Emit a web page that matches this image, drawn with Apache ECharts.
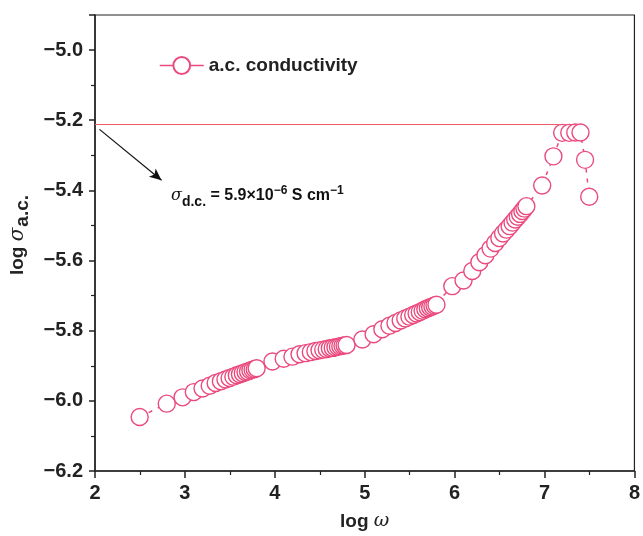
<!DOCTYPE html>
<html>
<head>
<meta charset="utf-8">
<script src="https://cdn.jsdelivr.net/npm/echarts@6/dist/echarts.min.js"></script>
<style>html,body{margin:0;padding:0;background:#fff}#c{width:643px;height:536px}</style>
</head>
<body>
<div id="c"></div>
<script>
// log ω values (x)
const logOmega = [
  2.497, 2.798, 2.974, 3.099, 3.196, 3.276, 3.342, 3.400, 3.451, 3.497,
  3.539, 3.577, 3.612, 3.644, 3.674, 3.702, 3.728, 3.753, 3.776, 3.798,
  3.974, 4.099, 4.196, 4.275, 4.342, 4.400, 4.451, 4.497, 4.539, 4.577,
  4.612, 4.644, 4.674, 4.702, 4.728, 4.753, 4.776, 4.798,
  4.974, 5.099, 5.196, 5.275, 5.342, 5.400, 5.451, 5.497, 5.539, 5.577,
  5.612, 5.644, 5.674, 5.702, 5.728, 5.753, 5.776, 5.798,
  5.974, 6.099, 6.196, 6.275, 6.342, 6.400, 6.451, 6.497, 6.539, 6.577,
  6.612, 6.644, 6.674, 6.702, 6.728, 6.753, 6.776, 6.798,
  6.974, 7.099, 7.196, 7.275, 7.342, 7.400, 7.451, 7.497
];
// log σ a.c. values (y)
const logSigma = [
  -6.046, -6.008, -5.990, -5.975, -5.965, -5.957, -5.949, -5.944, -5.939, -5.935,
  -5.931, -5.927, -5.924, -5.921, -5.918, -5.916, -5.913, -5.911, -5.909, -5.907,
  -5.888, -5.880, -5.874, -5.867, -5.864, -5.861, -5.858, -5.856, -5.854, -5.852,
  -5.850, -5.849, -5.847, -5.846, -5.844, -5.843, -5.842, -5.841,
  -5.825, -5.810, -5.796, -5.786, -5.778, -5.771, -5.765, -5.760, -5.755, -5.751,
  -5.747, -5.743, -5.739, -5.736, -5.733, -5.731, -5.728, -5.726,
  -5.673, -5.657, -5.630, -5.605, -5.585, -5.566, -5.550, -5.536, -5.523, -5.512,
  -5.502, -5.492, -5.483, -5.475, -5.467, -5.459, -5.452, -5.445,
  -5.386, -5.303, -5.236, -5.236, -5.235, -5.235, -5.313, -5.418
];
const seriesName = 'a.c. conductivity';
const dcLevel = -5.212;
const dcLineX = [2, 7.39];
const arrowFrom = [2.05, -5.226];
const arrowTo = [2.74, -5.371];
const xTicks = {min: 2, max: 8, interval: 1};
const yTicks = {min: -6.2, max: -4.9, interval: 0.2};

const PINK = '#ea4a7e';
const FONT = '"Liberation Sans", Arial, Helvetica, sans-serif';
const minus = s => s.replace('-', '\u2212');

const chart = echarts.init(document.getElementById('c'), null, {renderer: 'canvas'});
const pts = logOmega.map((x, i) => [x, logSigma[i]]);

chart.setOption({
  animation: false,
  backgroundColor: '#fff',
  grid: {left: 95, right: 7, top: 15, bottom: 62, show: true, borderColor: '#222', borderWidth: 1.2, backgroundColor: 'transparent'},
  legend: {
    left: 159, top: 56, padding: 0, itemWidth: 44, itemHeight: 21, itemGap: 4,
    data: [seriesName],
    lineStyle: {type: 'solid', width: 1.5},
    textStyle: {fontFamily: FONT, fontWeight: 'bold', fontSize: 19, color: '#222'}
  },
  xAxis: {
    type: 'value', min: xTicks.min, max: xTicks.max, interval: xTicks.interval,
    name: '{b|log }{s|ω}', nameLocation: 'middle', nameGap: 41,
    nameTextStyle: {rich: {
      b: {fontFamily: FONT, fontWeight: 'bold', fontSize: 19, color: '#222'},
      s: {fontFamily: '"DejaVu Serif", serif', fontStyle: 'italic', fontSize: 19, color: '#222'}
    }},
    axisLine: {lineStyle: {color: '#222', width: 1.5}},
    axisTick: {inside: false, length: 7, lineStyle: {color: '#222', width: 1.5}},
    minorTick: {show: true, splitNumber: 2, length: 4, lineStyle: {color: '#222', width: 1.2}},
    splitLine: {show: false},
    axisLabel: {fontFamily: FONT, fontWeight: 'bold', fontSize: 20, color: '#222', margin: 12,
      formatter: v => String(Math.round(v))}
  },
  yAxis: {
    type: 'value', min: yTicks.min, max: yTicks.max, interval: yTicks.interval,
    name: '{b|log }{s|σ}{sub|a.c.}', nameLocation: 'middle', nameGap: 62, nameRotate: 90,
    nameTextStyle: {rich: {
      b: {fontFamily: FONT, fontWeight: 'bold', fontSize: 19, color: '#222', padding: [0, 0, 0, 16]},
      s: {fontFamily: '"DejaVu Serif", serif', fontStyle: 'italic', fontSize: 20, color: '#222'},
      sub: {fontFamily: FONT, fontWeight: 'bold', fontSize: 19, color: '#222', padding: [10, 0, 0, 1]}
    }},
    axisLine: {lineStyle: {color: '#222', width: 1.5}},
    axisTick: {inside: false, length: 6, lineStyle: {color: '#222', width: 1.5}},
    minorTick: {show: true, splitNumber: 2, length: 4, lineStyle: {color: '#222', width: 1.2}},
    splitLine: {show: false},
    axisLabel: {fontFamily: FONT, fontWeight: 'bold', fontSize: 20, color: '#222', margin: 12,
      showMaxLabel: false,
      formatter: v => minus(v.toFixed(1))}
  },
  series: [{
    name: seriesName,
    type: 'line',
    data: pts,
    symbol: 'circle',
    symbolSize: 17,
    lineStyle: {color: PINK, width: 1.5, type: [4, 6]},
    itemStyle: {color: '#fff', borderColor: PINK, borderWidth: 1.4},
    emphasis: {disabled: true},
    z: 3,
    markLine: {
      silent: true, animation: false, z: 2,
      label: {show: false},
      data: [
        [{coord: [dcLineX[0], dcLevel], symbol: 'none', lineStyle: {color: '#ef5a6a', width: 1.2, type: 'solid'}},
         {coord: [dcLineX[1], dcLevel], symbol: 'none'}],
        [{coord: arrowFrom, symbol: 'none', lineStyle: {color: '#111', width: 1.2, type: 'solid'}},
         {coord: arrowTo, symbol: 'arrow', symbolSize: [8, 12]}]
      ]
    }
  }],
  graphic: [{
    type: 'text', left: 171, top: 185, z: 10,
    style: {
      text: '{s|σ}{sub|d.c.}{b| = 5.9×10}{sup|−6}{b| S cm}{sup|−1}',
      rich: {
        s: {fontFamily: '"DejaVu Serif", serif', fontStyle: 'italic', fontSize: 16, fill: '#111'},
        sub: {fontFamily: FONT, fontWeight: 'bold', fontSize: 14, fill: '#111', padding: [12, 0, 0, 0]},
        b: {fontFamily: FONT, fontWeight: 'bold', fontSize: 16, fill: '#111'},
        sup: {fontFamily: FONT, fontWeight: 'bold', fontSize: 12, fill: '#111', padding: [0, 0, 10, 0]}
      }
    }
  }]
});
</script>
</body>
</html>
